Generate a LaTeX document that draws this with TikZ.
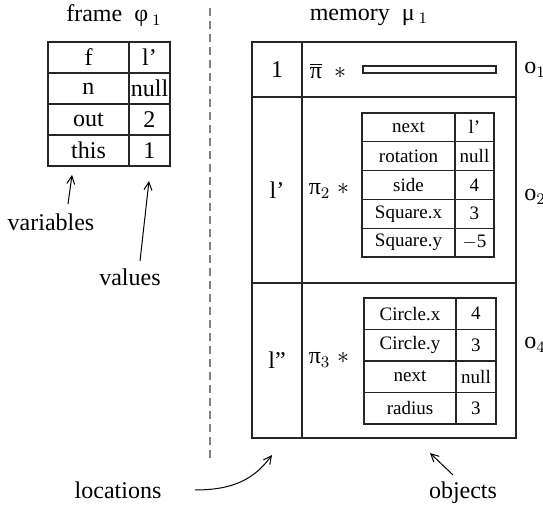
\documentclass[tikz,border=0pt]{standalone}
\usepackage{fontspec}
\setmainfont{Liberation Serif}
\usetikzlibrary{arrows.meta}
\tikzset{
  box/.style={draw=black!85, line width=0.6pt, anchor=north west, inner sep=0pt, outer sep=0pt},
  fkey/.style={box, minimum width=40.5pt, minimum height=15.5pt, font=\fontsize{12}{14}\selectfont},
  fval/.style={box, minimum width=20.5pt, minimum height=15.5pt, font=\fontsize{12}{14}\selectfont},
  loc/.style={box, minimum width=25pt, font=\fontsize{12}{14}\selectfont},
  obj/.style={box, minimum width=107pt},
  skey/.style={box, minimum width=46.5pt, minimum height=14.4pt, font=\fontsize{9.5}{11}\selectfont},
  sval/.style={box, minimum width=19.5pt, minimum height=14.4pt, font=\fontsize{9.5}{11}\selectfont},
  ckey/.style={box, minimum width=46pt, minimum height=15.75pt, font=\fontsize{9.5}{11}\selectfont},
  cval/.style={box, minimum width=20pt, minimum height=15.75pt, font=\fontsize{9.5}{11}\selectfont},
  lbl/.style={inner sep=0pt, font=\fontsize{12}{14}\selectfont},
  arr/.style={line width=0.5pt, -{Straight Barb[length=4pt,width=4pt]}}
}
\begin{document}
\begin{tikzpicture}[x=0.5pt, y=-0.5pt]
  \useasboundingbox (0,0) rectangle (543,507);

  \node[lbl] (ftitle) at (114,16) {frame~~φ\,$_1$};
  \foreach \v/\w [count=\i from 0] in {f/l',n/null,out/2,this/1} {
    \node[fkey] (fk\i) at (48,42+31*\i) {\v};
    \node[fval] (fv\i) at (129,42+31*\i) {\w};
  }

  \node[lbl] (vars) at (51,222) {variables};
  \coordinate (varstail) at (68,204);
  \coordinate (varshead) at (72,175);
  \draw[arr] (varstail) -- (varshead);

  \node[lbl] (vals) at (130,277) {values};
  \coordinate (valstail) at (140,261);
  \coordinate (valshead) at (149,181);
  \draw[arr] (valstail) -- (valshead);

  \coordinate (dtop) at (210,8);
  \coordinate (dbot) at (210,463);
  \draw[gray, line width=0.6pt, dash pattern=on 4pt off 2.5pt] (dtop) -- (dbot);

  \node[lbl] (mtitle) at (369,17) {memory~~μ\,$_1$};

  \node[loc, minimum height=27.5pt] (loc1) at (252,42) {1};
  \node[obj, minimum height=27.5pt] (obj1) at (302,42) {};
  \node[loc, minimum height=93pt] (loc2) at (252,97) {l'};
  \node[obj, minimum height=93pt] (obj2) at (302,97) {};
  \node[loc, minimum height=77.5pt] (loc3) at (252,283) {l''};
  \node[obj, minimum height=77.5pt] (obj4) at (302,283) {};

  \node[lbl] (pi1) at (328,71) {$\overline{\mbox{π}}$~~$*$};
  \node[box, minimum width=66.5pt, minimum height=3.5pt] (bar1) at (363,66) {};

  \node[lbl] (pi2) at (329,191) {π$_2\;*$};
  \foreach \v/\w [count=\i from 0] in {next/l',rotation/null,side/4,Square.x/3,Square.y/$-$5} {
    \node[skey] (sk\i) at (362,113+28.8*\i) {\v};
    \node[sval] (sv\i) at (455,113+28.8*\i) {\w};
  }

  \node[lbl] (pi3) at (329,360) {π$_3\;*$};
  \foreach \v/\w [count=\i from 0] in {Circle.x/4,Circle.y/3,next/null,radius/3} {
    \node[ckey] (ck\i) at (364,298+31.5*\i) {\v};
    \node[cval] (cv\i) at (456,298+31.5*\i) {\w};
  }

  \node[lbl, anchor=west] (o1) at (524,70) {o$_1$};
  \node[lbl, anchor=west] (o2) at (524,197) {o$_2$};
  \node[lbl, anchor=west] (o4) at (524,345) {o$_4$};

  \node[lbl] (locs) at (118,490) {locations};
  \coordinate (locstail) at (195,490);
  \coordinate (locshead) at (272,455);
  \draw[arr] (locstail) .. controls (235,490) and (255,478) .. (locshead);

  \node[lbl] (objs) at (463,493) {objects};
  \coordinate (objstail) at (453,475);
  \coordinate (objshead) at (430,453);
  \draw[arr] (objstail) -- (objshead);
\end{tikzpicture}
\end{document}
